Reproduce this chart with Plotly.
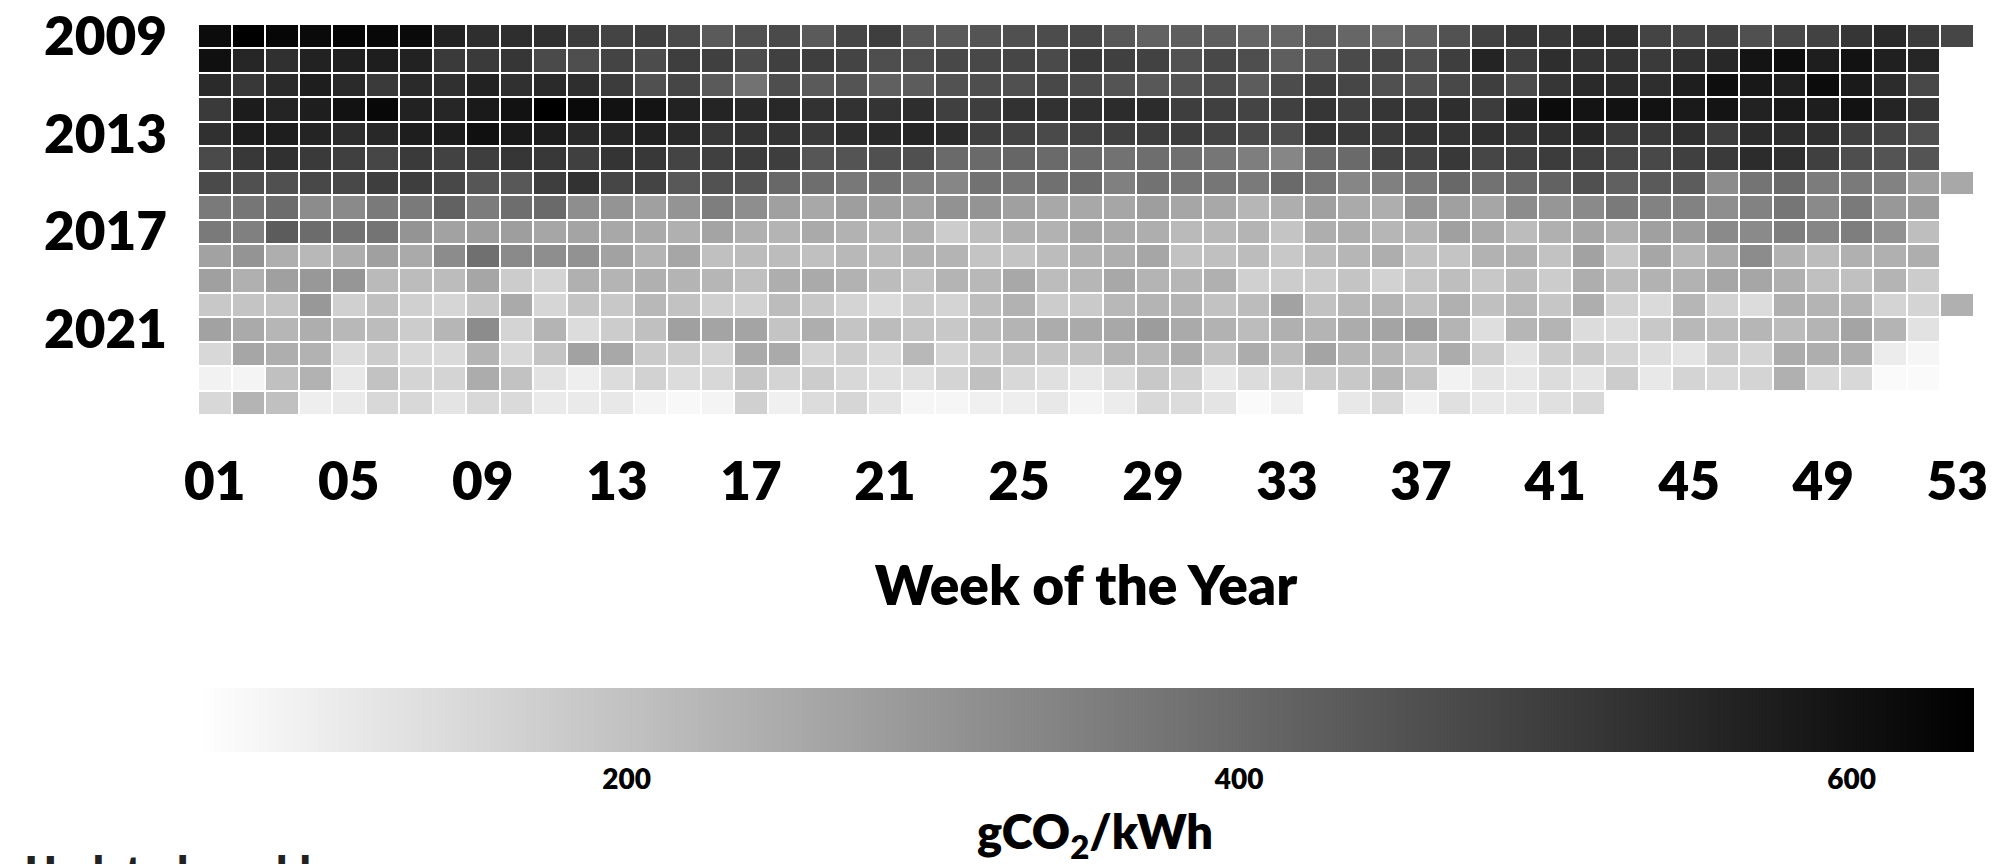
import plotly.graph_objects as go

# Weekly average carbon intensity of electricity (gCO2/kWh), one list per year
years = list(range(2009, 2025))
weeks = list(range(1, 54))

y2009 = [613, 640, 626, 617, 629, 622, 617, 563, 535, 535, 531, 504, 485,
         494, 472, 435, 458, 472, 435, 481, 499, 440, 435, 449, 458, 467,
         476, 440, 417, 426, 426, 408, 408, 431, 408, 394, 417, 453, 490,
         513, 513, 531, 531, 485, 481, 490, 458, 476, 490, 517, 544, 504, 481]
y2010 = [604, 554, 531, 563, 567, 572, 563, 508, 508, 517, 472, 463, 485,
         467, 499, 494, 467, 494, 499, 485, 463, 463, 476, 476, 481, 472,
         508, 494, 490, 453, 476, 463, 426, 440, 472, 481, 458, 499, 558,
         499, 535, 522, 522, 508, 526, 549, 595, 608, 572, 599, 567, 554]
y2011 = [544, 513, 544, 572, 544, 508, 544, 531, 563, 531, 544, 535, 504,
         458, 481, 435, 381, 463, 435, 449, 422, 431, 453, 463, 458, 476,
         467, 449, 440, 449, 463, 431, 467, 499, 481, 458, 453, 476, 499,
         467, 517, 544, 540, 535, 572, 608, 585, 567, 613, 581, 540, 476]
y2012 = [508, 576, 558, 572, 599, 622, 563, 554, 581, 599, 640, 617, 599,
         595, 563, 558, 544, 549, 526, 526, 522, 535, 494, 499, 526, 526,
         531, 540, 540, 499, 494, 485, 494, 517, 494, 517, 517, 535, 504,
         572, 613, 595, 599, 599, 581, 595, 563, 581, 572, 599, 558, 513]
y2013 = [531, 572, 572, 558, 535, 549, 572, 576, 604, 581, 572, 544, 554,
         563, 544, 513, 522, 522, 508, 535, 544, 554, 540, 494, 485, 472,
         485, 494, 499, 499, 485, 472, 463, 517, 508, 508, 522, 522, 531,
         517, 531, 554, 504, 508, 531, 499, 540, 535, 531, 494, 481, 458]
y2014 = [472, 513, 531, 508, 494, 481, 508, 490, 499, 517, 513, 494, 522,
         513, 485, 494, 504, 499, 444, 449, 458, 458, 399, 399, 408, 399,
         399, 381, 390, 385, 372, 353, 335, 399, 399, 485, 485, 513, 481,
         490, 504, 494, 476, 476, 494, 508, 540, 531, 494, 463, 449, 449]
y2015 = [472, 458, 458, 476, 476, 499, 499, 476, 444, 440, 499, 526, 481,
         485, 440, 453, 444, 403, 390, 367, 381, 349, 335, 381, 372, 385,
         394, 349, 381, 372, 372, 363, 399, 372, 335, 349, 367, 403, 381,
         399, 417, 458, 422, 435, 431, 322, 376, 399, 358, 363, 344, 276, 258]
y2016 = [363, 372, 394, 322, 326, 363, 363, 417, 358, 390, 399, 317, 303,
         276, 303, 353, 317, 276, 258, 281, 276, 272, 308, 303, 276, 258,
         258, 262, 281, 262, 258, 226, 244, 276, 253, 244, 303, 276, 262,
         322, 299, 326, 363, 344, 344, 317, 344, 372, 326, 363, 294, 285]
y2017 = [363, 349, 431, 394, 381, 376, 303, 272, 281, 281, 262, 267, 258,
         253, 240, 267, 240, 231, 253, 235, 221, 240, 176, 208, 240, 235,
         262, 253, 244, 217, 221, 231, 194, 244, 244, 226, 231, 276, 253,
         212, 240, 262, 240, 276, 285, 326, 326, 353, 335, 353, 308, 208]
y2018 = [272, 303, 244, 221, 244, 276, 253, 322, 385, 326, 317, 308, 272,
         231, 262, 203, 212, 212, 203, 221, 212, 235, 231, 194, 194, 212,
         235, 244, 262, 199, 203, 212, 185, 212, 226, 244, 199, 194, 235,
         240, 199, 272, 185, 262, 221, 253, 322, 235, 212, 240, 240, 244]
y2019 = [276, 240, 276, 294, 299, 217, 212, 212, 262, 176, 158, 240, 231,
         240, 231, 226, 203, 244, 253, 235, 212, 199, 231, 221, 258, 212,
         226, 258, 231, 226, 240, 167, 176, 176, 194, 162, 190, 208, 185,
         212, 176, 244, 212, 235, 235, 262, 262, 240, 203, 203, 231, 176]
y2020 = [185, 194, 194, 294, 167, 203, 167, 153, 185, 253, 153, 194, 185,
         221, 199, 167, 162, 212, 185, 158, 140, 176, 158, 208, 235, 176,
         181, 221, 231, 231, 199, 212, 272, 199, 221, 231, 203, 240, 203,
         221, 190, 244, 162, 144, 226, 162, 140, 240, 231, 231, 158, 158, 240]
y2021 = [272, 253, 226, 244, 221, 212, 176, 226, 322, 158, 231, 140, 176,
         203, 276, 267, 267, 194, 244, 194, 212, 194, 185, 212, 231, 249,
         253, 258, 285, 253, 235, 212, 240, 231, 249, 267, 281, 231, 135,
         226, 231, 140, 140, 185, 221, 212, 226, 212, 231, 267, 231, 126]
y2022 = [149, 262, 244, 235, 140, 176, 149, 144, 231, 149, 194, 272, 258,
         181, 176, 158, 253, 253, 158, 176, 149, 221, 158, 185, 203, 194,
         199, 231, 221, 249, 199, 249, 212, 267, 226, 226, 199, 249, 176,
         121, 176, 185, 158, 135, 121, 181, 158, 249, 244, 244, 103, 80]
y2023 = [90, 85, 203, 235, 112, 199, 158, 158, 249, 199, 126, 99, 140,
         162, 140, 149, 190, 158, 176, 149, 131, 131, 158, 203, 149, 131,
         112, 140, 185, 167, 112, 140, 158, 176, 185, 226, 194, 90, 121,
         112, 140, 121, 176, 112, 158, 149, 158, 240, 149, 149, 71, 71]
y2024 = [149, 231, 203, 99, 108, 149, 149, 121, 149, 144, 108, 108, 112,
         85, 76, 85, 167, 94, 140, 153, 121, 80, 80, 94, 99, 112,
         85, 103, 149, 140, 121, 71, 94, 60, 112, 149, 90, 131, 112,
         112, 131, 149]

year_rows = [y2009, y2010, y2011, y2012, y2013, y2014, y2015, y2016,
             y2017, y2018, y2019, y2020, y2021, y2022, y2023, y2024]

week_ticks = [1, 5, 9, 13, 17, 21, 25, 29, 33, 37, 41, 45, 49, 53]
week_labels = ["01", "05", "09", "13", "17", "21", "25", "29", "33", "37",
               "41", "45", "49", "53"]
year_ticks = [2009, 2013, 2017, 2021]
cbar_ticks = [200, 400, 600]

# pad short years (no week 53, current year in progress) with gaps
z = [row + [None] * (len(weeks) - len(row)) for row in year_rows]

FONT = "Lato"
BOLD = 800

fig = go.Figure(
    go.Heatmap(
        z=z,
        x=weeks,
        y=years,
        zmin=60,
        zmax=640,
        colorscale=[[0, "#ffffff"], [1, "#000000"]],
        xgap=2,
        ygap=2,
        hoverongaps=False,
        colorbar=dict(
            orientation="h",
            x=0.5,
            xanchor="center",
            y=-0.6982,
            yanchor="top",
            len=1,
            lenmode="fraction",
            thickness=64,
            xpad=0,
            ypad=0,
            outlinewidth=0,
            tickvals=cbar_ticks,
            ticks="outside",
            ticklen=4,
            tickcolor="rgba(0,0,0,0)",
            tickfont=dict(family=FONT, size=28, color="#000", weight=BOLD),
        ),
    )
)

fig.update_xaxes(
    range=[0.5, 53.5],
    tickvals=week_ticks,
    ticktext=week_labels,
    ticks="",
    ticklabelstandoff=31,
    showgrid=False,
    zeroline=False,
    showline=False,
    automargin=False,
    tickfont=dict(family=FONT, size=53, color="#000", weight=BOLD),
    title=dict(
        text="Week of the Year",
        standoff=56,
        font=dict(family=FONT, size=55, color="#000", weight=BOLD),
    ),
)

fig.update_yaxes(
    autorange="reversed",
    tickvals=year_ticks,
    ticks="",
    ticklabelstandoff=30,
    showgrid=False,
    zeroline=False,
    showline=False,
    automargin=False,
    tickfont=dict(family=FONT, size=53, color="#000", weight=BOLD),
)

# colour bar unit label
fig.add_annotation(
    text="gCO<sub>2</sub>/kWh",
    xref="paper",
    yref="paper",
    x=0.505,
    y=-1.072,
    xanchor="center",
    yanchor="middle",
    showarrow=False,
    font=dict(family=FONT, size=47, color="#000", weight=BOLD),
)

fig.add_annotation(
    text="Updated weekly",
    xref="paper",
    yref="paper",
    x=-0.0985,
    y=-1.0946,
    xanchor="left",
    yanchor="top",
    showarrow=False,
    font=dict(family=FONT, size=42, color="#222", weight=BOLD),
)

fig.update_layout(
    width=2014,
    height=864,
    margin=dict(l=198, r=40, t=24, b=449, autoexpand=False),
    paper_bgcolor="white",
    plot_bgcolor="white",
)

fig.write_html("out.html")
